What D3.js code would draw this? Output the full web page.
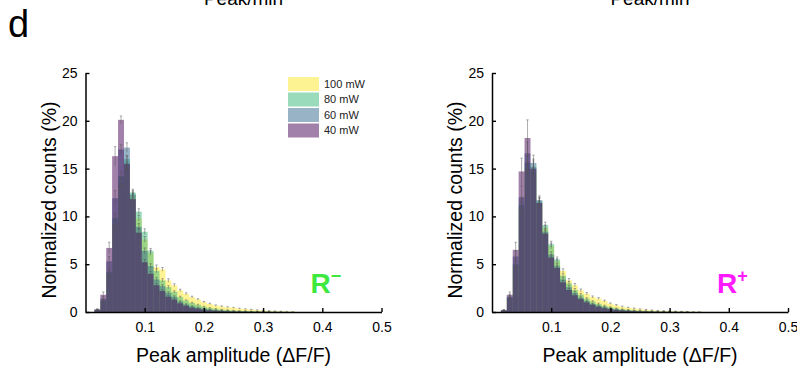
<!DOCTYPE html>
<html>
<head>
<meta charset="utf-8">
<script src="https://cdn.jsdelivr.net/npm/d3@7"></script>
<style>
  body { margin: 0; background: #fff; }
  svg { font-family: "Liberation Sans", Arial, sans-serif; }
</style>
</head>
<body>
<svg id="chart" width="797" height="372"></svg>
<script>
// bin centres, width 0.01
const bins = [0.02,0.03,0.04,0.05,0.06,0.07,0.08,0.09,0.10,0.11,0.12,0.13,0.14,0.15,0.16,0.17,0.18,0.19,
              0.20,0.21,0.22,0.23,0.24,0.25,0.26,0.27,0.28,0.29,0.30,0.31,0.32,0.33,0.34,0.35];
const binWidth = 0.01;

const powers = ["100 mW", "80 mW", "60 mW", "40 mW"];
const powerColors = ["#fde725", "#35b779", "#31688e", "#440154"];

const xTicks = [0.1, 0.2, 0.3, 0.4, 0.5];
const yTicks = [0, 5, 10, 15, 20, 25];

// R- panel, normalized counts (%)
const rMinus100 = [0.2,1.1,4.0,9.2,13.5,15.2,12.2,9.8,7.6,6.2,4.7,4.45,3.3,2.8,2.25,1.9,1.55,1.3,1.03,0.85,0.68,0.58,0.5,0.44,0.36,0.3,0.25,0.2,0.15,0.12,0.09,0.07,0.05,0.04];
const rMinus80  = [0.2,1.2,4.2,9.8,14.2,16.0,12.5,10.5,8.4,6.4,4.3,3.3,2.6,2.1,1.55,1.2,0.95,0.75,0.55,0.42,0.32,0.25,0.2,0.15,0.12,0.1,0.08,0.06,0.05,0.04,0.03,0.02,0.02,0.01];
const rMinus60  = [0.2,1.4,5.3,11.9,17.0,17.2,12.3,8.9,6.4,4.8,3.4,2.7,2.0,1.6,1.1,0.8,0.6,0.45,0.35,0.25,0.18,0.14,0.1,0.08,0.06,0.05,0.04,0.03,0.02,0.02,0.01,0.01,0.01,0];
const rMinus40  = [0.3,1.8,6.7,16.3,20.1,15.5,11.8,8.3,5.2,4.0,2.8,2.2,1.6,1.3,0.9,0.65,0.45,0.35,0.25,0.18,0.13,0.1,0.07,0.05,0.04,0.03,0.02,0.02,0.01,0.01,0.01,0,0,0];

const rMinus100Err = [0.04,0.15,0.4,0.6,0.5,0.4,0.35,0.3,0.3,0.25,0.22,0.2,0.18,0.15,0.13,0.11,0.1,0.09,0.08,0.07,0.06,0.05,0.05,0.04,0.04,0.03,0.03,0.03,0.02,0.02,0.02,0.02,0.01,0.01];
const rMinus80Err  = [0.04,0.15,0.4,0.6,0.5,0.4,0.35,0.3,0.3,0.25,0.2,0.18,0.15,0.12,0.1,0.08,0.07,0.06,0.05,0.04,0.04,0.03,0.03,0.02,0.02,0.02,0.01,0.01,0.01,0.01,0.01,0.01,0,0];
const rMinus60Err  = [0.05,0.2,0.5,0.8,0.5,0.5,0.4,0.35,0.3,0.25,0.2,0.15,0.12,0.1,0.08,0.07,0.06,0.05,0.04,0.03,0.03,0.02,0.02,0.02,0.01,0.01,0.01,0.01,0.01,0.01,0,0,0,0];
const rMinus40Err  = [0.05,0.3,0.6,1.0,0.4,0.8,0.6,0.4,0.3,0.25,0.2,0.15,0.12,0.1,0.08,0.06,0.05,0.04,0.03,0.03,0.02,0.02,0.02,0.01,0.01,0.01,0.01,0.01,0.01,0,0,0,0,0];

// R+ panel
const rPlus100 = [0.15,1.4,4.8,10.8,15.0,14.6,11.3,8.8,6.9,5.3,4.3,3.3,2.8,2.26,1.9,1.57,1.4,1.15,0.87,0.7,0.55,0.45,0.36,0.29,0.23,0.18,0.14,0.11,0.09,0.07,0.05,0.04,0.03,0.02];
const rPlus80  = [0.15,1.5,5.0,11.2,15.6,15.2,11.6,9.1,7.1,5.5,3.8,3.0,2.3,1.8,1.4,1.1,0.85,0.65,0.5,0.38,0.28,0.22,0.17,0.13,0.1,0.08,0.06,0.05,0.04,0.03,0.02,0.02,0.01,0.01];
const rPlus60  = [0.15,1.6,5.8,12.0,16.6,15.6,11.7,8.4,6.0,4.8,3.4,2.6,2.0,1.5,1.15,0.85,0.65,0.5,0.38,0.28,0.2,0.15,0.11,0.08,0.06,0.05,0.03,0.02,0.02,0.01,0.01,0.01,0,0];
const rPlus40  = [0.2,1.8,6.5,14.7,18.2,15.0,11.4,8.2,5.7,4.6,3.1,2.3,1.75,1.35,1.0,0.75,0.55,0.4,0.3,0.22,0.16,0.12,0.09,0.06,0.05,0.03,0.02,0.02,0.01,0.01,0.01,0,0,0];

const rPlus100Err = [0.04,0.15,0.45,0.7,0.6,0.5,0.35,0.3,0.3,0.25,0.22,0.2,0.18,0.15,0.13,0.11,0.1,0.09,0.08,0.07,0.06,0.05,0.05,0.04,0.04,0.03,0.03,0.03,0.02,0.02,0.02,0.02,0.01,0.01];
const rPlus80Err  = [0.04,0.2,0.5,0.8,0.8,0.6,0.4,0.3,0.3,0.25,0.2,0.18,0.15,0.12,0.1,0.08,0.07,0.06,0.05,0.04,0.04,0.03,0.03,0.02,0.02,0.02,0.01,0.01,0.01,0.01,0.01,0.01,0,0];
const rPlus60Err  = [0.05,0.25,0.6,1.2,1.2,0.8,0.45,0.35,0.3,0.25,0.2,0.15,0.12,0.1,0.08,0.07,0.06,0.05,0.04,0.03,0.03,0.02,0.02,0.02,0.01,0.01,0.01,0.01,0.01,0.01,0,0,0,0];
const rPlus40Err  = [0.05,0.3,0.8,1.4,1.9,1.0,0.5,0.35,0.3,0.25,0.2,0.15,0.12,0.1,0.08,0.06,0.05,0.04,0.03,0.03,0.02,0.02,0.02,0.01,0.01,0.01,0.01,0.01,0.01,0,0,0,0,0];

const svg = d3.select("#chart");
const yScale = d3.scaleLinear().domain([0, 25]).range([312, 73]);

function drawPanel(left, series, errors, sign, signColor) {
	const xScale = d3.scaleLinear().domain([0, 0.5]).range([left, left + 296]);
	const g = svg.append("g");
	const barW = xScale(binWidth) - xScale(0);

	series.forEach((vals, i) => {
		g.append("g").selectAll("rect")
			.data(bins)
			.join("rect")
			.attr("x", (d) => xScale(d - binWidth / 2))
			.attr("y", (d, j) => yScale(vals[j]))
			.attr("width", barW)
			.attr("height", (d, j) => yScale(0) - yScale(vals[j]))
			.style("fill", powerColors[i])
			.style("fill-opacity", 0.5);
	});

	// error bars on top of the bars
	series.forEach((vals, i) => {
		const err = errors[i];
		const eg = g.append("g")
			.style("stroke", "#555")
			.style("stroke-width", 0.6)
			.style("stroke-opacity", 0.8);
		bins.forEach((d, j) => {
			if (err[j] <= 0) return;
			const cx = xScale(d);
			eg.append("line")
				.attr("x1", cx).attr("x2", cx)
				.attr("y1", yScale(vals[j] - err[j]))
				.attr("y2", yScale(vals[j] + err[j]));
			eg.append("line")
				.attr("x1", cx - 1.2).attr("x2", cx + 1.2)
				.attr("y1", yScale(vals[j] + err[j]))
				.attr("y2", yScale(vals[j] + err[j]));
		});
	});

	const xAxis = g.append("g")
		.attr("transform", `translate(0,${yScale(0)})`)
		.call(d3.axisBottom(xScale).tickValues(xTicks).tickFormat(d3.format(".1f"))
			.tickSizeInner(-4).tickSizeOuter(0).tickPadding(10));
	const yAxis = g.append("g")
		.attr("transform", `translate(${left},0)`)
		.call(d3.axisLeft(yScale).tickValues(yTicks)
			.tickSizeInner(-4).tickSizeOuter(0).tickPadding(8));

	[xAxis, yAxis].forEach((ax) => {
		ax.attr("font-family", null).attr("font-size", null);
		ax.select(".domain").style("stroke", "#000").style("stroke-width", 1.5);
		ax.selectAll(".tick line").style("stroke", "#000").style("stroke-width", 1.4);
		ax.selectAll(".tick text").style("font-size", "14px").style("fill", "#000");
	});

	g.append("text")
		.attr("x", (xScale(0) + xScale(0.5)) / 2)
		.attr("y", 362)
		.attr("text-anchor", "middle")
		.style("font-size", "19.5px")
		.text("Peak amplitude (\u0394F/F)");

	g.append("text")
		.attr("transform", `translate(${left - 30},200) rotate(-90)`)
		.attr("text-anchor", "middle")
		.style("font-size", "19.5px")
		.text("Normalized counts (%)");

	g.append("text")
		.attr("x", (xScale(0) + xScale(0.5)) / 2 + 10)
		.attr("y", 5)
		.attr("text-anchor", "middle")
		.style("font-size", "19px")
		.text("Peak/min");

	const tag = g.append("text")
		.attr("x", xScale(0.38))
		.attr("y", 293)
		.style("font-size", "28px")
		.style("font-weight", "bold")
		.style("fill", signColor);
	tag.append("tspan").text("R");
	tag.append("tspan")
		.attr("dy", -11)
		.style("font-size", "18px")
		.text(sign);

	return xScale;
}

drawPanel(85.5, [rMinus100, rMinus80, rMinus60, rMinus40],
	[rMinus100Err, rMinus80Err, rMinus60Err, rMinus40Err], "\u2212", "#3ee83e");
drawPanel(492, [rPlus100, rPlus80, rPlus60, rPlus40],
	[rPlus100Err, rPlus80Err, rPlus60Err, rPlus40Err], "+", "#ff1aff");

// legend
const legend = svg.append("g").attr("transform", "translate(288,77)");
powers.forEach((p, i) => {
	legend.append("rect")
		.attr("x", 0)
		.attr("y", i * 15.5)
		.attr("width", 31)
		.attr("height", 14)
		.style("fill", powerColors[i])
		.style("fill-opacity", 0.5);
	legend.append("text")
		.attr("x", 36)
		.attr("y", i * 15.5 + 7)
		.attr("dy", "0.35em")
		.style("font-size", "11px")
		.style("fill", "#222")
		.text(p);
});

svg.append("text")
	.attr("x", 8)
	.attr("y", 37)
	.style("font-size", "38px")
	.text("d");
</script>
</body>
</html>
